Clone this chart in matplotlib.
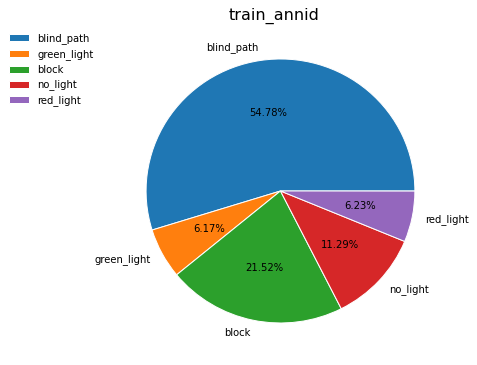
import matplotlib
matplotlib.use("Agg")
import matplotlib.pyplot as plt

labels = ["blind_path", "green_light", "block", "no_light", "red_light"]
shares = [54.78, 6.17, 21.52, 11.29, 6.23]
colors = ["#1f77b4", "#ff7f0e", "#2ca02c", "#d62728", "#9467bd"]

fig = plt.figure(figsize=(477 / 72, 365 / 72), dpi=72)
ax = fig.add_axes([0.2358, 0.0247, 0.7044, 0.9041])

fracs = [s / 100 for s in shares]
ax.pie(fracs, labels=labels, colors=colors, normalize=False,
       autopct=lambda p: "%.2f%%" % p,
       wedgeprops={"edgecolor": "white", "linewidth": 1})
ax.set_aspect("auto")
ax.set_xlim(-1.25, 1.25)
ax.set_ylim(-1.25, 1.25)
ax.set_title("train_annid", fontsize=16, x=0.482)

fig.legend(loc="upper left", bbox_to_anchor=(0.0, 0.935), frameon=False)

fig.savefig("out.png", dpi=72, facecolor="white")
